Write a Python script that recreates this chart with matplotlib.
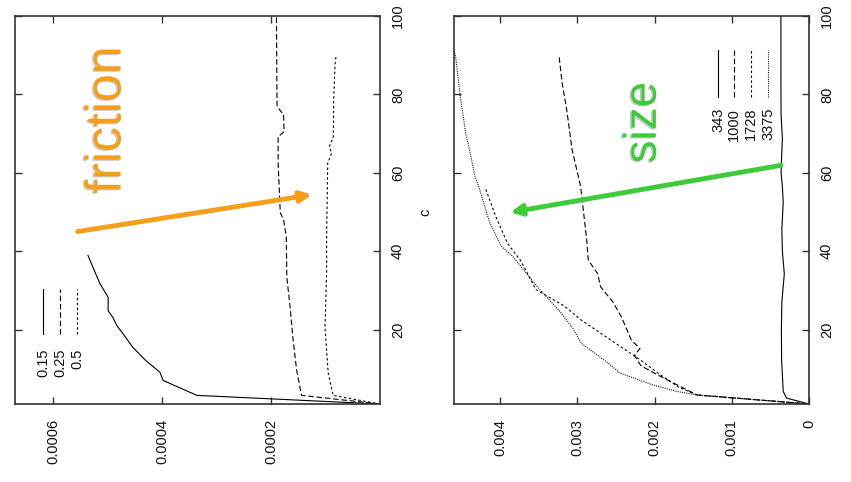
import matplotlib
matplotlib.use("Agg")
import matplotlib.pyplot as plt
import matplotlib.patheffects as pe

plt.rcParams['font.family'] = ['Liberation Sans', 'DejaVu Sans']

# ---- friction panel: mean value vs c for three friction coefficients ----
fric_labels = ["0.15", "0.25", "0.5"]
fric_c_015 = [1, 3.2, 7.0, 9.1, 12.1, 15.5, 19.0, 21.0, 23.0, 24.8, 28.2, 31.7, 34.6, 38.9]
fric_v_015 = [0, 0.000336, 0.000398, 0.000404, 0.000430, 0.000454, 0.000472, 0.000483,
              0.000490, 0.000499, 0.000499, 0.000514, 0.000523, 0.000536]
fric_c_025 = [1, 3.2, 9.6, 18, 25.7, 33.3, 43.7, 48, 49.8, 62.4, 69.2, 70.5, 74.8, 76.9, 99, 100]
fric_v_025 = [0, 0.000144, 0.000153, 0.000160, 0.000165, 0.000171, 0.000172, 0.000177,
              0.000183, 0.000187, 0.000187, 0.000176, 0.000177, 0.000189, 0.000190, 0.000190]
fric_c_05 = [1, 3.2, 8.8, 20.6, 34.3, 43.7, 62.4, 65, 66.7, 69.2, 78.6, 87.5, 89.8]
fric_v_05 = [0, 0.000086, 0.000095, 0.000101, 0.000098, 0.000098, 0.000096, 0.0000887,
             0.000093, 0.0000856, 0.0000850, 0.0000826, 0.0000807]

# ---- size panel: mean value vs c for four system sizes ----
size_labels = ["343", "1000", "1728", "3375"]
size_c_343 = [1, 2.5, 4.2, 12.3, 20, 27, 34.2, 40, 45.5, 52.4, 56.5, 60, 64, 68.6, 75, 85, 100]
size_v_343 = [0, 0.00029, 0.000334, 0.000355, 0.000358, 0.000352, 0.00032, 0.000345, 0.000352,
              0.000334, 0.000345, 0.000362, 0.000355, 0.000345, 0.000362, 0.000364, 0.000364]
size_c_1000 = [1, 3.3, 8.3, 10.8, 13.4, 15.2, 17.2, 23.2, 27, 30.9, 34.3, 37.7, 42.8, 56.6,
               60, 65.9, 76.2, 83, 90]
size_v_1000 = [0, 0.00145, 0.00195, 0.00218, 0.00226, 0.00219, 0.0023, 0.00243, 0.00254, 0.0027,
               0.00274, 0.00286, 0.00288, 0.00296, 0.0030, 0.00307, 0.00314, 0.0032, 0.00324]
size_c_1728 = [1, 3.3, 5.3, 8.8, 12.6, 17.2, 22.4, 26, 30.2, 37.4, 42.1, 48.9, 55.9]
size_v_1728 = [0, 0.00145, 0.00169, 0.00195, 0.00221, 0.00256, 0.00295, 0.00317, 0.00354,
               0.00373, 0.00391, 0.00406, 0.00419]
size_c_3375 = [1, 3.3, 4.2, 5.9, 8.9, 11.4, 16.5, 20.6, 24.9, 30.2, 34.5, 38.7, 41.3, 47.4,
               55.9, 59.2, 66, 70.3, 79.7, 89.8, 91]
size_v_3375 = [0, 0.00145, 0.00171, 0.00203, 0.00245, 0.0026, 0.00295, 0.00307, 0.00324, 0.00349,
               0.00367, 0.00384, 0.00399, 0.00414, 0.00427, 0.00433, 0.0044, 0.00445, 0.00452,
               0.00458, 0.0046]

c_ticks = [20, 40, 60, 80, 100]
fric_ticks = [0.0002, 0.0004, 0.0006]
fric_ticklabels = ["0.0002", "0.0004", "0.0006"]
size_ticks = [0, 0.001, 0.002, 0.003, 0.004]
size_ticklabels = ["0", "0.001", "0.002", "0.003", "0.004"]

styles = [
    dict(linestyle="-"),
    dict(linestyle=(0, (5, 2.5))),
    dict(linestyle=(0, (2.2, 2.2))),
    dict(linestyle=(0, (0.9, 1.1))),
]

ORANGE = "#F59E1B"
GREEN = "#3DCB3A"
FRAME = "#333333"

fig = plt.figure(figsize=(8.51, 4.82), dpi=100)
W, H = 851, 482


def make_axes(x0, x1, y0, y1):
    return fig.add_axes([x0 / W, 1 - y1 / H, (x1 - x0) / W, (y1 - y0) / H])


def style_axes(ax, ticks, ticklabels, xmax):
    ax.set_xlim(xmax, 0)
    ax.set_ylim(1, 100)
    ax.set_xticks(ticks)
    ax.set_xticklabels(ticklabels, rotation=90)
    ax.set_yticks(c_ticks)
    ax.set_yticklabels([str(t) for t in c_ticks], rotation=90, va="center")
    ax.yaxis.tick_right()
    ax.tick_params(axis="both", direction="in", length=5, width=1.0, color=FRAME,
                   labelsize=10.5, labelcolor="#111111",
                   top=True, bottom=True, left=True, right=True)
    ax.tick_params(axis="x", pad=11)
    ax.tick_params(axis="y", pad=8)
    for s in ax.spines.values():
        s.set_linewidth(1.2)
        s.set_color(FRAME)


def draw_legend(ax, labels, xs, text_top, line_y0, line_y1):
    for i, (lab, x) in enumerate(zip(labels, xs)):
        ax.text(x, text_top, lab, transform=ax.transAxes, rotation=90,
                ha="center", va="top", fontsize=10.5, color="#111111")
        ax.plot([x, x], [line_y0, line_y1], transform=ax.transAxes, color="black",
                lw=0.8, **styles[i])


shadow = [pe.withSimplePatchShadow(offset=(-1.2, -0.8), shadow_rgbFace="#9a9a9a", alpha=0.55)]

# ---- left panel: friction ----
ax1 = make_axes(15, 380, 16, 404)
style_axes(ax1, fric_ticks, fric_ticklabels, 0.00067)
for (cs, vs), st in zip([(fric_c_015, fric_v_015), (fric_c_025, fric_v_025), (fric_c_05, fric_v_05)],
                        styles):
    ax1.plot(vs, cs, color="black", lw=0.8, **st)
draw_legend(ax1, fric_labels, [0.077, 0.123, 0.171], 0.144, 0.18, 0.296)
ax1.annotate("", xy=(0.000125, 54.4), xytext=(0.000555, 45),
             arrowprops=dict(arrowstyle="-|>,head_length=0.65,head_width=0.32",
                             color=ORANGE, lw=3.5, shrinkA=0, shrinkB=0))
ax1.text(0.000500, 73.5, "friction", rotation=90, ha="center", va="center",
         fontsize=36, color=ORANGE, path_effects=shadow)

# ---- right panel: size ----
ax2 = make_axes(454, 809, 16, 404)
style_axes(ax2, size_ticks, size_ticklabels, 0.0046)
for (cs, vs), st in zip([(size_c_343, size_v_343), (size_c_1000, size_v_1000),
                         (size_c_1728, size_v_1728), (size_c_3375, size_v_3375)], styles):
    ax2.plot(vs, cs, color="black", lw=0.8, **st)
draw_legend(ax2, size_labels, [0.744, 0.789, 0.837, 0.885], 0.763, 0.791, 0.912)
ax2.annotate("", xy=(0.00387, 49.9), xytext=(0.000364, 61.9),
             arrowprops=dict(arrowstyle="-|>,head_length=0.65,head_width=0.32",
                             color=GREEN, lw=3.5, shrinkA=0, shrinkB=0))
ax2.text(0.00214, 72.8, "size", rotation=90, ha="center", va="center",
         fontsize=33, color=GREEN, path_effects=shadow)

fig.text(425 / W, 1 - 212 / H, "c", rotation=90, ha="center", va="center",
         fontsize=10.5, color="#111111")

fig.savefig("out.png", dpi=100)
